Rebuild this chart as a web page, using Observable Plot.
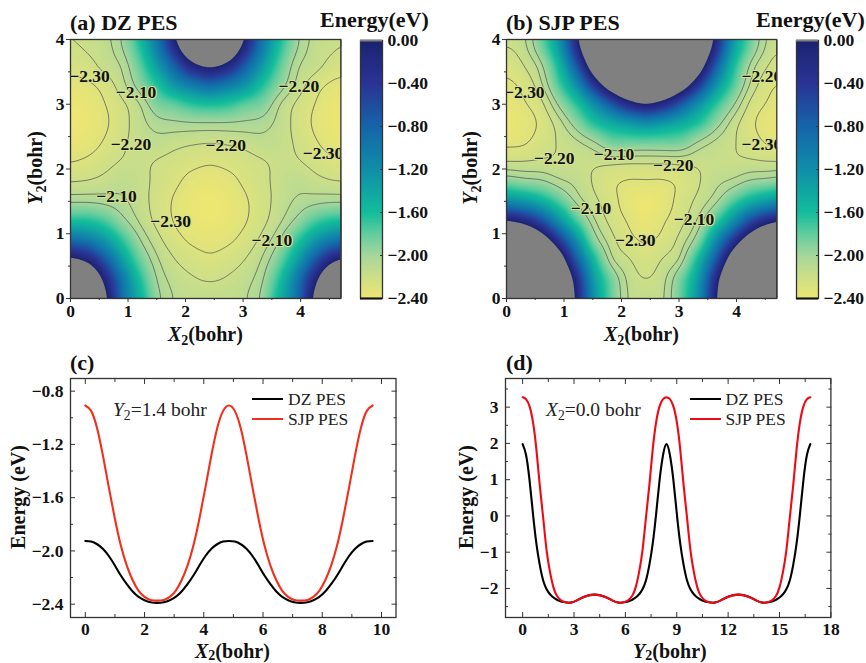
<!DOCTYPE html>
<html><head><meta charset="utf-8">
<script src="https://cdn.jsdelivr.net/npm/d3@7"></script>
<script src="https://cdn.jsdelivr.net/npm/@observablehq/plot@0.6"></script>
<style>
html,body{margin:0;padding:0;background:#fff}
#page{position:relative;width:866px;height:663px;overflow:hidden;font-family:"Liberation Serif",serif;color:#111}
#page svg{position:absolute;overflow:visible;background:transparent}
.t{position:absolute;white-space:nowrap;line-height:1}
.ttl{font-size:22px;font-weight:bold}
.ax{font-size:20px;font-weight:bold}
.note{font-size:19.5px;font-weight:normal;color:#222}
.leg{font-size:17.5px;color:#222}
.sw{position:absolute;height:2px}
.s2{font-size:70%;position:relative;top:.28em;line-height:0}
.low .s2{top:.16em}
</style></head>
<body><div id="page"></div>
<script>
const gridX=[0,0.303,0.606,0.909,1.21,1.52,1.82,2.12,2.42,2.73,3.03,3.33,3.64,3.94,4.24,4.55,4.85];
const gridY=[0,0.3,0.6,0.9,1.2,1.5,1.8,2.1,2.4,2.7,3.0,3.3,3.6,3.9,4.2];
const dzGrid=[
[2.0,1.2,.1,-.9,-1.5,-1.96,-2.11,-2.14,-2.15,-2.14,-2.11,-1.96,-1.5,-.9,.1,1.2,2.0],
[1.2,.7,-.18,-1.0,-1.63,-2.02,-2.14,-2.19,-2.21,-2.19,-2.14,-2.02,-1.63,-1.0,-.18,.7,1.2],
[.1,-.15,-.72,-1.35,-1.83,-2.09,-2.2,-2.25,-2.28,-2.25,-2.2,-2.09,-1.83,-1.35,-.72,-.15,.1],
[-.85,-1.0,-1.3,-1.68,-2.0,-2.17,-2.262,-2.32,-2.34,-2.32,-2.262,-2.17,-2.0,-1.68,-1.3,-1.0,-.85],
[-1.6,-1.62,-1.75,-1.96,-2.12,-2.23,-2.31,-2.367,-2.386,-2.367,-2.31,-2.23,-2.12,-1.96,-1.75,-1.62,-1.6],
[-2.02,-2.02,-2.04,-2.08,-2.16,-2.24,-2.315,-2.373,-2.393,-2.373,-2.315,-2.24,-2.16,-2.08,-2.04,-2.02,-2.02],
[-2.2,-2.19,-2.165,-2.13,-2.17,-2.225,-2.28,-2.34,-2.36,-2.34,-2.28,-2.225,-2.17,-2.13,-2.165,-2.19,-2.2],
[-2.3,-2.275,-2.23,-2.19,-2.18,-2.21,-2.24,-2.27,-2.29,-2.27,-2.24,-2.21,-2.18,-2.19,-2.23,-2.275,-2.3],
[-2.365,-2.345,-2.285,-2.215,-2.16,-2.14,-2.17,-2.19,-2.2,-2.19,-2.17,-2.14,-2.16,-2.215,-2.285,-2.345,-2.365],
[-2.39,-2.373,-2.315,-2.235,-2.14,-2.05,-2.03,-2.02,-2.02,-2.02,-2.03,-2.05,-2.14,-2.235,-2.315,-2.373,-2.39],
[-2.385,-2.365,-2.3,-2.22,-2.1,-1.88,-1.78,-1.65,-1.6,-1.65,-1.78,-1.88,-2.1,-2.22,-2.3,-2.365,-2.385],
[-2.34,-2.317,-2.257,-2.13,-1.92,-1.62,-1.25,-1.0,-.85,-1.0,-1.25,-1.62,-1.92,-2.13,-2.257,-2.317,-2.34],
[-2.26,-2.235,-2.16,-2.08,-1.78,-1.3,-.72,-.15,.1,-.15,-.72,-1.3,-1.78,-2.08,-2.16,-2.235,-2.26],
[-2.22,-2.18,-2.14,-1.99,-1.62,-1.0,-.18,.7,1.2,.7,-.18,-1.0,-1.62,-1.99,-2.14,-2.18,-2.22],
[-2.15,-2.14,-2.11,-1.96,-1.5,-.9,.1,1.2,2.0,1.2,.1,-.9,-1.5,-1.96,-2.11,-2.14,-2.15]];
const sjpGrid=[
[3.27,3.05,2.4,1.2,-.1,-1.2,-1.8,-2.11,-2.15,-2.11,-1.8,-1.2,-.1,1.2,2.4,3.05,3.27],
[3.05,2.8,2.1,.95,-.25,-1.3,-1.85,-2.13,-2.2,-2.13,-1.85,-1.3,-.25,.95,2.1,2.8,3.05],
[2.4,2.15,1.5,.4,-.7,-1.55,-2.07,-2.19,-2.25,-2.19,-2.07,-1.55,-.7,.4,1.5,2.15,2.4],
[1.2,1.0,.4,-.4,-1.2,-1.9,-2.16,-2.27,-2.31,-2.27,-2.16,-1.9,-1.2,-.4,.4,1.0,1.2],
[0,-.2,-.6,-1.2,-1.72,-2.08,-2.23,-2.31,-2.37,-2.31,-2.23,-2.08,-1.72,-1.2,-.6,-.2,0],
[-1.15,-1.27,-1.47,-1.75,-2.03,-2.17,-2.26,-2.35,-2.39,-2.35,-2.26,-2.17,-2.03,-1.75,-1.47,-1.27,-1.15],
[-1.87,-1.93,-1.97,-2.07,-2.13,-2.21,-2.28,-2.31,-2.31,-2.31,-2.28,-2.21,-2.13,-2.07,-1.97,-1.93,-1.87],
[-2.19,-2.19,-2.18,-2.18,-2.17,-2.18,-2.18,-2.19,-2.19,-2.19,-2.18,-2.18,-2.17,-2.18,-2.18,-2.19,-2.19],
[-2.32,-2.31,-2.25,-2.19,-2.13,-2.03,-1.87,-1.85,-1.85,-1.85,-1.87,-2.03,-2.13,-2.19,-2.25,-2.31,-2.32],
[-2.38,-2.34,-2.28,-2.15,-1.93,-1.65,-1.45,-1.3,-1.2,-1.3,-1.45,-1.65,-1.93,-2.15,-2.28,-2.34,-2.38],
[-2.36,-2.31,-2.23,-1.98,-1.65,-1.2,-.7,-.25,-.03,-.25,-.7,-1.2,-1.65,-1.98,-2.23,-2.31,-2.36],
[-2.32,-2.27,-2.12,-1.75,-1.2,-.4,.4,1.0,1.25,1.0,.4,-.4,-1.2,-1.75,-2.12,-2.27,-2.32],
[-2.27,-2.2,-2.03,-1.55,-.7,.4,1.5,2.15,2.4,2.15,1.5,.4,-.7,-1.55,-2.03,-2.2,-2.27],
[-2.2,-2.13,-1.85,-1.3,-.25,.95,2.1,2.8,3.05,2.8,2.1,.95,-.25,-1.3,-1.85,-2.13,-2.2],
[-2.15,-2.11,-1.8,-1.2,-.1,1.2,2.4,3.05,3.27,3.05,2.4,1.2,-.1,-1.2,-1.8,-2.11,-2.15]];
const energyStops=[-2.4,-2.2,-2.0,-1.8,-1.6,-1.2,-0.8,-0.4,0];
const energyColors=["#eee672","#cddf88","#a6d79b","#62cd9e","#12bd9b","#0f8ea9","#1565a9","#2a3495","#1a2370"];
const contourLevels=[-2.3,-2.2,-2.1,-2.0];
const dzLabelX=[.33,1.14,1.05,.8,2.7,1.74,3.5,3.97,4.39];
const dzLabelY=[3.43,3.19,2.38,1.58,2.37,1.19,.89,3.28,2.24];
const dzLabelV=[-2.3,-2.1,-2.2,-2.1,-2.2,-2.3,-2.1,-2.2,-2.3];
const sjpLabelX=[.31,.83,1.87,2.9,1.47,3.26,2.24,4.44,4.44];
const sjpLabelY=[3.19,2.16,2.23,2.05,1.39,1.22,.89,3.43,2.38];
const sjpLabelV=[-2.3,-2.2,-2.1,-2.2,-2.1,-2.1,-2.3,-2.2,-2.3];
const cX=[0,.2,.4,.6,.8,1,1.2,1.4,1.6,1.8,2,2.2,2.42,2.65,2.85,3.05,3.25,3.45,3.65,3.85,4.05,4.25,4.45,4.65,4.85,5.05,5.25,5.45,5.65,5.85,6.05,6.25,6.45,6.65,6.85,7.05,7.27,7.5,7.7,7.9,8.1,8.3,8.5,8.7,8.9,9.1,9.3,9.5,9.7];
const cDZ=[-1.925,-1.93,-1.95,-1.985,-2.04,-2.11,-2.185,-2.25,-2.305,-2.345,-2.37,-2.385,-2.39,-2.385,-2.37,-2.345,-2.305,-2.25,-2.185,-2.11,-2.04,-1.985,-1.95,-1.93,-1.925,-1.93,-1.95,-1.985,-2.04,-2.11,-2.185,-2.25,-2.305,-2.345,-2.37,-2.385,-2.39,-2.385,-2.37,-2.345,-2.305,-2.25,-2.185,-2.11,-2.04,-1.985,-1.95,-1.93,-1.925];
const cSJP=[-.908,-.95,-1.08,-1.29,-1.53,-1.76,-1.96,-2.11,-2.22,-2.3,-2.345,-2.368,-2.373,-2.368,-2.345,-2.3,-2.22,-2.11,-1.96,-1.76,-1.53,-1.29,-1.08,-.95,-.908,-.95,-1.08,-1.29,-1.53,-1.76,-1.96,-2.11,-2.22,-2.3,-2.345,-2.368,-2.373,-2.368,-2.345,-2.3,-2.22,-2.11,-1.96,-1.76,-1.53,-1.29,-1.08,-.95,-.908];
const dY=[0,.2,.4,.6,.8,1,1.2,1.4,1.6,1.8,2,2.2,2.4,2.8,3.2,3.6,4.2,4.8,5.2,5.6,6,6.2,6.4,6.6,6.8,7,7.2,7.4,7.6,7.8,8,8.2,8.4,8.6,8.8,9,9.2,9.4,9.6,9.8,10,10.2,10.4,10.6,10.8,11.2,11.6,12,12.6,13.2,13.6,14,14.4,14.6,14.8,15,15.2,15.4,15.6,15.8,16,16.2,16.4,16.6,16.8];
const dDZ=[1.98,1.68,1.0,.08,-.75,-1.35,-1.78,-2.02,-2.16,-2.25,-2.31,-2.35,-2.375,-2.39,-2.32,-2.23,-2.17,-2.23,-2.32,-2.39,-2.375,-2.35,-2.31,-2.25,-2.16,-2.02,-1.78,-1.35,-.75,.08,1.0,1.68,1.98,1.68,1.0,.08,-.75,-1.35,-1.78,-2.02,-2.16,-2.25,-2.31,-2.35,-2.375,-2.39,-2.32,-2.23,-2.17,-2.23,-2.32,-2.39,-2.375,-2.35,-2.31,-2.25,-2.16,-2.02,-1.78,-1.35,-.75,.08,1.0,1.68,1.98];
const dSJP=[3.27,3.22,3.03,2.6,1.85,.85,-.05,-.95,-1.55,-1.97,-2.2,-2.31,-2.365,-2.39,-2.32,-2.23,-2.17,-2.23,-2.32,-2.39,-2.365,-2.31,-2.2,-1.97,-1.55,-.95,-.05,.85,1.85,2.6,3.03,3.22,3.27,3.22,3.03,2.6,1.85,.85,-.05,-.95,-1.55,-1.97,-2.2,-2.31,-2.365,-2.39,-2.32,-2.23,-2.17,-2.23,-2.32,-2.39,-2.365,-2.31,-2.2,-1.97,-1.55,-.95,-.05,.85,1.85,2.6,3.03,3.22,3.27];

const page=document.getElementById("page");
const font={fontFamily:'"Liberation Serif",serif',fontWeight:"bold",fontSize:"17.5px",color:"#111",background:"transparent",overflow:"visible"};
const frame=()=>Plot.frame({stroke:"#333",strokeWidth:1.3});
function place(svg,left,top){svg.style.left=left+"px";svg.style.top=top+"px";page.appendChild(svg);}
function text(html,left,top,cls,extra){const d=document.createElement("div");d.className="t "+cls;d.innerHTML=html;d.style.left=left+"px";d.style.top=top+"px";if(extra)d.setAttribute("style",d.getAttribute("style")+extra);page.appendChild(d);}

// Smooth resampling of the read grid for the raster and contour marks (cubic between grid nodes)
function smoothGrid(index,w,h,X,Y,V){
  const nx=gridX.length,ny=gridY.length,out=new Float64Array(w*h);
  const dx=(X[index[nx-1]]-X[index[0]])/(nx-1),dy=(Y[index[nx*(ny-1)]]-Y[index[0]])/(ny-1);
  const x0=X[index[0]],y0=Y[index[0]];
  const at=(i,j)=>V[index[Math.max(0,Math.min(ny-1,j))*nx+Math.max(0,Math.min(nx-1,i))]];
  const cr=(a,b,c,d,t)=>b+.5*t*(c-a+t*(2*a-5*b+4*c-d+t*(3*(b-c)+d-a)));
  for(let py=0;py<h;py++){
    const v=(py+.5-y0)/dy,j=Math.floor(v),tv=v-j;
    for(let px=0;px<w;px++){
      const u=(px+.5-x0)/dx,i=Math.floor(u),tu=u-i,r=[];
      for(let k=-1;k<3;k++)r.push(cr(at(i-1,j+k),at(i,j+k),at(i+1,j+k),at(i+2,j+k),tu));
      out[px+w*py]=cr(r[0],r[1],r[2],r[3],tv);
    }
  }
  return out;
}
function heat(grid,labX,labY,labV,fx,fw){
  const pts=gridY.flatMap((y,j)=>gridX.map((x,i)=>({x,y,v:grid[j][i]})));
  const labels=labX.map((x,i)=>({x,y:labY[i],s:d3.format(".2f")(labV[i])}));
  const ml=40,mt=8,mb=30,mr=10,h=259;
  const svg=Plot.plot({width:fw+ml+mr,height:h+mt+mb,marginLeft:ml,marginTop:mt,marginBottom:mb,marginRight:mr,style:font,
    x:{domain:[0,4.7],label:null},y:{domain:[0,4],label:null},
    color:{type:"linear",domain:energyStops,range:energyColors,clamp:true},
    marks:[
      Plot.raster(pts,{x:"x",y:"y",fill:"v",interpolate:smoothGrid,pixelSize:1}),
      Plot.contour(pts,{x:"x",y:"y",value:"v",thresholds:[0],interpolate:smoothGrid,pixelSize:1,fill:"#808080",stroke:"none"}),
      Plot.contour(pts,{x:"x",y:"y",value:"v",thresholds:contourLevels,interpolate:smoothGrid,pixelSize:1,blur:3,fill:"none",stroke:"#555",strokeWidth:.75}),
      Plot.text(labels,{x:"x",y:"y",text:"s",clip:"frame",stroke:"#d6e28f",strokeWidth:2,fill:"#111",fontSize:17.5,fontWeight:"bold"}),
      frame(),
      Plot.axisX({ticks:[0,1,2,3,4],tickSize:4,tickPadding:2,tickFormat:"d",label:null,stroke:"#333"}),
      Plot.axisX({ticks:[.5,1.5,2.5,3.5,4.5],tickSize:2,tickFormat:()=>"",label:null,stroke:"#333"}),
      Plot.axisY({ticks:[0,1,2,3,4],tickSize:4,tickPadding:2,tickFormat:"d",label:null,stroke:"#333"}),
      Plot.axisY({ticks:[.5,1.5,2.5,3.5],tickSize:2,tickFormat:()=>"",label:null,stroke:"#333"})
    ]});
  place(svg,fx-ml,38.5-mt);
}
function colorbar(left){
  const ml=2,mt=6,mb=6,mr=60,h=258,w=22;
  const svg=Plot.plot({width:w+ml+mr,height:h+mt+mb,marginLeft:ml,marginTop:mt,marginBottom:mb,marginRight:mr,style:font,
    x:{domain:[0,1],axis:null},y:{domain:[-2.4,0],label:null},
    color:{type:"linear",domain:energyStops,range:energyColors,clamp:true},
    marks:[
      Plot.raster({fill:(x,y)=>y,pixelSize:1,x1:0,x2:1,y1:-2.4,y2:0}),
      frame(),
      Plot.ruleY([0],{stroke:"#808080",strokeWidth:2}),
      Plot.ruleY([-2.4],{stroke:"#111",strokeWidth:2}),
      Plot.axisY({anchor:"right",ticks:[-2.4,-2,-1.6,-1.2,-.8,-.4,0],tickSize:0,tickPadding:5,tickFormat:d3.format(".2f"),label:null}),
      Plot.axisY({anchor:"right",ticks:[-2,-1.6,-1.2,-.8,-.4],tickSize:-3,tickFormat:()=>"",label:null,stroke:"#333"})
    ]});
  place(svg,left-ml,40-mt);
}
function lines(X,A,B,fx,fw,xd,yd,xMajor,xMinor,yMajor,yMinor,yFmt,xFmt,red){
  const ml=50,mt=6,mb=24,mr=10,h=239;
  const da=X.map((x,i)=>({x,v:A[i]})),db=X.map((x,i)=>({x,v:B[i]}));
  const svg=Plot.plot({width:fw+ml+mr,height:h+mt+mb,marginLeft:ml,marginTop:mt,marginBottom:mb,marginRight:mr,style:font,
    x:{domain:xd,label:null},y:{domain:yd,label:null},
    marks:[
      Plot.line(da,{x:"x",y:"v",stroke:"#000",strokeWidth:2.1,curve:"natural"}),
      Plot.line(db,{x:"x",y:"v",stroke:red,strokeWidth:2.1,curve:"natural"}),
      frame(),
      Plot.axisX({ticks:xMajor,tickSize:0,tickPadding:5,tickFormat:xFmt,label:null}),
      Plot.axisX({ticks:xMajor,tickSize:-5,tickFormat:()=>"",label:null,stroke:"#333"}),
      Plot.axisX({ticks:xMinor,tickSize:-3,tickFormat:()=>"",label:null,stroke:"#333"}),
      Plot.axisX({anchor:"top",ticks:xMajor,tickSize:-5,tickFormat:()=>"",label:null,stroke:"#333"}),
      Plot.axisX({anchor:"top",ticks:xMinor,tickSize:-3,tickFormat:()=>"",label:null,stroke:"#333"}),
      Plot.axisY({ticks:yMajor,tickSize:0,tickPadding:7,tickFormat:yFmt,label:null}),
      Plot.axisY({ticks:yMajor,tickSize:-5,tickFormat:()=>"",label:null,stroke:"#333"}),
      Plot.axisY({ticks:yMinor,tickSize:-3,tickFormat:()=>"",label:null,stroke:"#333"}),
      Plot.axisY({anchor:"right",ticks:yMajor,tickSize:-5,tickFormat:()=>"",label:null,stroke:"#333"}),
      Plot.axisY({anchor:"right",ticks:yMinor,tickSize:-3,tickFormat:()=>"",label:null,stroke:"#333"})
    ]});
  place(svg,fx-ml,378.3-mt);
}
heat(dzGrid,dzLabelX,dzLabelY,dzLabelV,70.3,270.4);
heat(sjpGrid,sjpLabelX,sjpLabelY,sjpLabelV,506,270.3);
colorbar(359.5);
colorbar(795.7);
lines(cX,cDZ,cSJP,70,325.5,[-.5,10.49],[-2.5,-.705],[0,2,4,6,8,10],[1,3,5,7,9],[-2.4,-2,-1.6,-1.2,-.8],[-2.2,-1.8,-1.4,-1],d3.format(".1f"),"d","#f0301c");
lines(dY,dDZ,dSJP,505.3,325.4,[-1,18],[-2.8,3.79],[0,3,6,9,12,15,18],[1.5,4.5,7.5,10.5,13.5,16.5],[-2,-1,0,1,2,3],[-2.5,-1.5,-.5,.5,1.5,2.5,3.5],d3.format("d"),"d","#ee0a14");

const S='<span class="s2">2</span>';
text("(a) DZ PES",70,12,"ttl");
text("(b) SJP PES",506,12,"ttl");
text("Energy(eV)",320,9,"ttl");
text("Energy(eV)",756,9,"ttl");
text("(c)",70,352,"ttl");
text("(d)",506,352,"ttl");
text('<i>X</i>'+S+'(bohr)',168,324,"ax");
text('<i>X</i>'+S+'(bohr)',604,324,"ax");
text('<i>X</i>'+S+'(bohr)',195,640.5,"ax low");
text('<i>Y</i>'+S+'(bohr)',633,640.5,"ax low");
const rot=(html,cx,cy)=>text(html,cx,cy,"ax",";transform:translate(-50%,-50%) rotate(-90deg)");
rot('<i>Y</i>'+S+'(bohr)',35,168);
rot('<i>Y</i>'+S+'(bohr)',470,168);
rot('Energy (eV)',18,497);
rot('Energy (eV)',466,497);
text('<i>Y</i>'+S+'=1.4 bohr',113,400,"note");
text('<i>X</i>'+S+'=0.0 bohr',546,400,"note");
function legend(x,red){
  [[ "DZ PES","#000",398.5],["SJP PES",red,419]].forEach(([s,c,y])=>{
    const d=document.createElement("div");d.className="sw";d.style.cssText=`left:${x}px;top:${y-1}px;width:31px;background:${c}`;page.appendChild(d);
    text(s,x+36,y-8,"leg");
  });
}
legend(252,"#f0301c");
legend(689.5,"#ee0a14");
</script></body></html>
